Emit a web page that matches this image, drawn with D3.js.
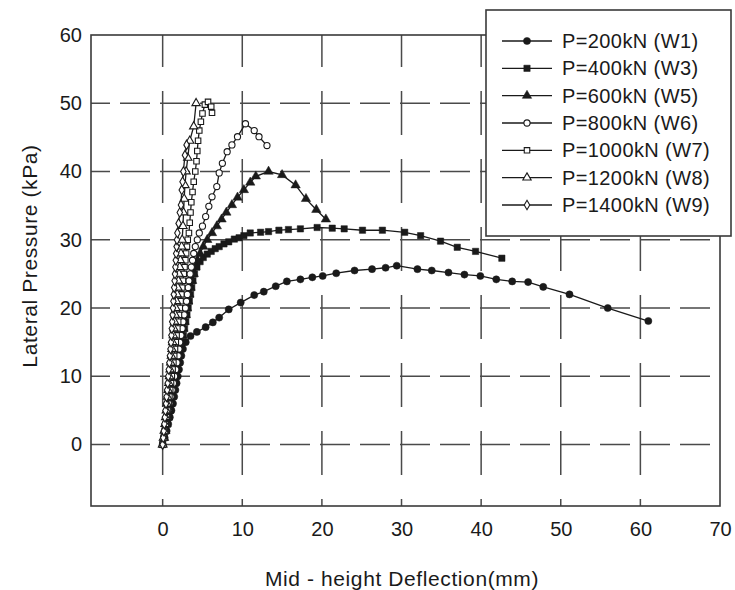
<!DOCTYPE html>
<html><head><meta charset="utf-8">
<script src="https://cdn.jsdelivr.net/npm/d3@7"></script>
<style>body{margin:0;background:#fff}</style>
</head><body>
<svg id="c" width="735" height="590"></svg>
<script>
// ---------- data ----------
const xTicks = [0, 10, 20, 30, 40, 50, 60, 70];
const yTicks = [0, 10, 20, 30, 40, 50, 60];
const xTitle = "Mid - height Deflection(mm)";
const yTitle = "Lateral Pressure (kPa)";
const seriesNames = ["P=200kN (W1)", "P=400kN (W3)", "P=600kN (W5)", "P=800kN (W6)", "P=1000kN (W7)", "P=1200kN (W8)", "P=1400kN (W9)"];

// [deflection mm, lateral pressure kPa]
const w1 = [[0,0],[0.25,1],[0.5,2],[0.7,3],[0.9,4],[1.1,5],[1.3,6],[1.45,7],[1.6,8],[1.75,9],[1.9,10],[2.05,11],[2.2,12],[2.35,13],[2.55,14],[2.9,15],[3.5,15.9],[4.3,16.5],[5.4,17.2],[6.3,17.9],[7.1,18.6],[8.3,19.8],[9.8,20.8],[11.5,21.9],[12.7,22.4],[14.2,23.2],[15.6,23.9],[17.3,24.2],[18.8,24.5],[20.1,24.7],[21.8,25.1],[24.1,25.5],[26.3,25.7],[28.0,25.9],[29.4,26.2],[32.0,25.7],[33.8,25.5],[35.9,25.2],[37.9,24.9],[39.9,24.7],[41.9,24.2],[43.9,23.9],[45.9,23.8],[47.8,23.1],[51.1,22.0],[55.9,20.0],[61.0,18.1]];
const w3 = [[0,0],[0.2,1],[0.4,2],[0.6,3],[0.8,4],[0.95,5],[1.1,6],[1.25,7],[1.4,8],[1.55,9],[1.7,10],[1.85,11],[2.0,12],[2.15,13],[2.3,14],[2.45,15],[2.6,16],[2.75,17],[2.9,18],[3.05,19],[3.2,20],[3.35,21],[3.5,22],[3.65,23],[3.8,24],[4.0,25],[4.3,26],[4.7,26.8],[5.1,27.4],[5.6,27.9],[6.1,28.3],[6.6,28.7],[7.1,29.0],[7.7,29.4],[8.3,29.7],[9.0,30.1],[9.6,30.3],[10.2,30.6],[11.0,31.0],[12.3,31.1],[13.3,31.2],[14.6,31.4],[15.8,31.5],[17.3,31.6],[19.4,31.8],[21.3,31.7],[22.8,31.6],[25.1,31.4],[27.6,31.4],[30.4,31.1],[32.4,30.6],[34.9,29.8],[37.0,28.9],[39.3,28.3],[42.6,27.3]];
const w5 = [[0,0],[0.2,1],[0.35,2],[0.5,3],[0.65,4],[0.8,5],[0.95,6],[1.1,7],[1.25,8],[1.4,9],[1.55,10],[1.7,11],[1.85,12],[2.0,13],[2.15,14],[2.3,15],[2.45,16],[2.6,17],[2.75,18],[2.9,19],[3.05,20],[3.2,21],[3.35,22],[3.5,23],[3.7,24],[3.9,25],[4.1,26],[4.35,27],[4.7,28],[5.1,29],[5.6,30],[6.2,31],[6.8,32],[7.4,33],[8.0,34],[8.7,35.1],[9.4,36.2],[10.2,37.3],[11.0,38.4],[11.7,39.3],[13.3,40.0],[15.0,39.5],[16.7,38.0],[18.0,36.0],[19.3,34.4],[20.5,33.0]];
const w6 = [[0,0],[0.15,1],[0.3,2],[0.45,3],[0.6,4],[0.75,5],[0.9,6],[1.05,7],[1.2,8],[1.35,9],[1.5,10],[1.65,11],[1.8,12],[1.95,13],[2.05,14],[2.15,15],[2.3,16],[2.45,17],[2.55,18],[2.7,19],[2.85,20],[3.0,21],[3.1,22],[3.2,23],[3.3,24],[3.45,25],[3.6,26],[3.75,27],[3.9,28],[4.1,29],[4.35,30],[4.6,31],[5.0,32],[5.4,33.4],[5.8,34.9],[6.2,36.3],[6.8,37.8],[7.1,39.8],[7.5,41.2],[8.1,42.9],[8.7,43.9],[9.4,45.1],[10.4,47.0],[11.5,46.0],[12.1,45.1],[13.1,43.8]];
const w7 = [[0,0],[0.12,1],[0.25,2],[0.38,3],[0.5,4],[0.62,5],[0.75,6],[0.85,7],[0.95,8],[1.05,9],[1.15,10],[1.25,11],[1.35,12],[1.45,13],[1.55,14],[1.65,15],[1.75,16],[1.85,17],[1.95,18],[2.05,19],[2.15,20],[2.25,21],[2.35,22],[2.45,23],[2.55,24],[2.65,25],[2.75,26],[2.85,27],[2.95,28],[3.05,29],[3.15,30],[3.3,31],[3.4,32.5],[3.5,34],[3.6,35.5],[3.75,37],[3.9,38.5],[4.1,40],[4.25,41.5],[4.35,43],[4.45,44.5],[4.6,46],[4.8,47.3],[5.0,48.5],[5.3,49.8],[5.7,50.2],[6.1,49.5],[6.2,48.6]];
const w8 = [[0,0],[0.1,1],[0.2,2],[0.3,3],[0.38,4],[0.46,5],[0.54,6],[0.62,7],[0.7,8],[0.78,9],[0.86,10],[0.94,11],[1.02,12],[1.1,13],[1.18,14],[1.26,15],[1.34,16],[1.42,17],[1.5,18],[1.58,19],[1.66,20],[1.74,21],[1.82,22],[1.9,23],[1.98,24],[2.06,25],[2.14,26],[2.22,27],[2.3,28],[2.38,29],[2.45,30],[2.55,32],[2.62,34],[2.7,36],[2.8,38],[2.95,40],[3.15,42],[3.4,44.5],[3.9,46.6],[4.2,50.0]];
const w9 = [[0,0],[0.07,1],[0.14,2],[0.21,3],[0.28,4],[0.35,5],[0.42,6],[0.49,7],[0.56,8],[0.63,9],[0.7,10],[0.77,11],[0.84,12],[0.91,13],[0.98,14],[1.05,15],[1.1,16],[1.15,17],[1.2,18],[1.25,19],[1.3,20],[1.35,21],[1.4,22],[1.45,23],[1.5,24],[1.55,25],[1.6,26],[1.65,27],[1.7,28],[1.75,29],[1.8,30],[1.85,31],[2.0,32.4],[2.15,34],[2.3,35.1],[2.4,37.3],[2.5,38.5],[2.6,40.0],[2.8,42.4],[3.0,43.9]];

const seriesData = [w1, w3, w5, w6, w7, w8, w9];
const seriesSymbols = [d3.symbolCircle, d3.symbolSquare, d3.symbolTriangle, d3.symbolCircle, d3.symbolSquare, d3.symbolTriangle, d3.symbolDiamond];
const seriesFilled = [true, true, true, false, false, false, false];
const seriesSizes = [40, 40, 38, 30, 30, 30, 26];

// ---------- layout ----------
const svg = d3.select("#c");
const L = 91, R = 720, T = 35, B = 506;
const x = d3.scaleLinear().domain([-9, 70]).range([L, R]);
const y = d3.scaleLinear().domain([-9, 60]).range([B, T]);
const ink = "#1a1a1a";
const font = "'Liberation Sans', Arial, sans-serif";

svg.append("rect").attr("width", 735).attr("height", 590).attr("fill", "#fff");

// grid
const grid = svg.append("g").attr("stroke", "#4a4a4a").attr("stroke-width", 1.5).attr("fill", "none");
grid.selectAll(".gx").data(xTicks.filter(d => d < 70)).join("line")
  .attr("x1", d => x(d)).attr("x2", d => x(d)).attr("y1", T).attr("y2", B)
  .attr("stroke-dasharray", "44,24").attr("stroke-dashoffset", 12);
grid.selectAll(".gy").data(yTicks.filter(d => d < 60)).join("line")
  .attr("x1", L).attr("x2", R).attr("y1", d => y(d)).attr("y2", d => y(d))
  .attr("stroke-dasharray", "30,10").attr("stroke-dashoffset", 11);

// frame
svg.append("rect").attr("x", L).attr("y", T).attr("width", R - L).attr("height", B - T)
  .attr("fill", "none").attr("stroke", "#3a3a3a").attr("stroke-width", 1.6);

// axes tick labels via d3 axes
const xAxis = svg.append("g").attr("transform", `translate(0,${B})`)
  .call(d3.axisBottom(x).tickValues(xTicks).tickSize(0).tickPadding(16).tickFormat(d3.format("d")));
const yAxis = svg.append("g").attr("transform", `translate(${L},0)`)
  .call(d3.axisLeft(y).tickValues(yTicks).tickSize(0).tickPadding(9).tickFormat(d3.format("d")));
[xAxis, yAxis].forEach(a => {
  a.select(".domain").remove();
  a.selectAll("text").attr("font-family", font).attr("font-size", 20).attr("fill", ink);
});

// axis titles
svg.append("text").attr("x", 402).attr("y", 586).attr("text-anchor", "middle")
  .attr("font-family", font).attr("font-size", 21).attr("letter-spacing", 0.6).attr("fill", ink).text(xTitle);
svg.append("text").attr("transform", "translate(37,256) rotate(-90)").attr("text-anchor", "middle")
  .attr("font-family", font).attr("font-size", 21).attr("letter-spacing", 0.6).attr("fill", ink).text(yTitle);

// series
const line = d3.line().x(d => x(d[0])).y(d => y(d[1]));
seriesData.forEach((data, i) => {
  const g = svg.append("g");
  g.append("path").attr("d", line(data)).attr("fill", "none").attr("stroke", ink).attr("stroke-width", 1.3);
  g.selectAll("path.m").data(data).join("path").attr("class", "m")
    .attr("transform", d => `translate(${x(d[0])},${y(d[1])})`)
    .attr("d", d3.symbol().type(seriesSymbols[i]).size(seriesSizes[i]))
    .attr("fill", seriesFilled[i] ? ink : "#fff")
    .attr("stroke", ink).attr("stroke-width", seriesFilled[i] ? 0.5 : 1.1);
});

// legend
const lg = svg.append("g");
lg.append("rect").attr("x", 486).attr("y", 10).attr("width", 245).attr("height", 226)
  .attr("fill", "#fff").attr("stroke", "#3a3a3a").attr("stroke-width", 1.6);
const rowY = d3.scalePoint().domain(d3.range(seriesNames.length)).range([41, 205]);
seriesNames.forEach((name, i) => {
  const yy = rowY(i);
  lg.append("line").attr("x1", 502).attr("x2", 552).attr("y1", yy).attr("y2", yy)
    .attr("stroke", ink).attr("stroke-width", 1.3);
  lg.append("path").attr("transform", `translate(527,${yy})`)
    .attr("d", d3.symbol().type(seriesSymbols[i]).size(seriesSizes[i]))
    .attr("fill", seriesFilled[i] ? ink : "#fff").attr("stroke", ink)
    .attr("stroke-width", seriesFilled[i] ? 0.5 : 1.1);
  lg.append("text").attr("x", 562).attr("y", yy + 7).attr("font-family", font)
    .attr("font-size", 20).attr("letter-spacing", 0.4).attr("fill", ink).text(name);
});
</script>
</body></html>
